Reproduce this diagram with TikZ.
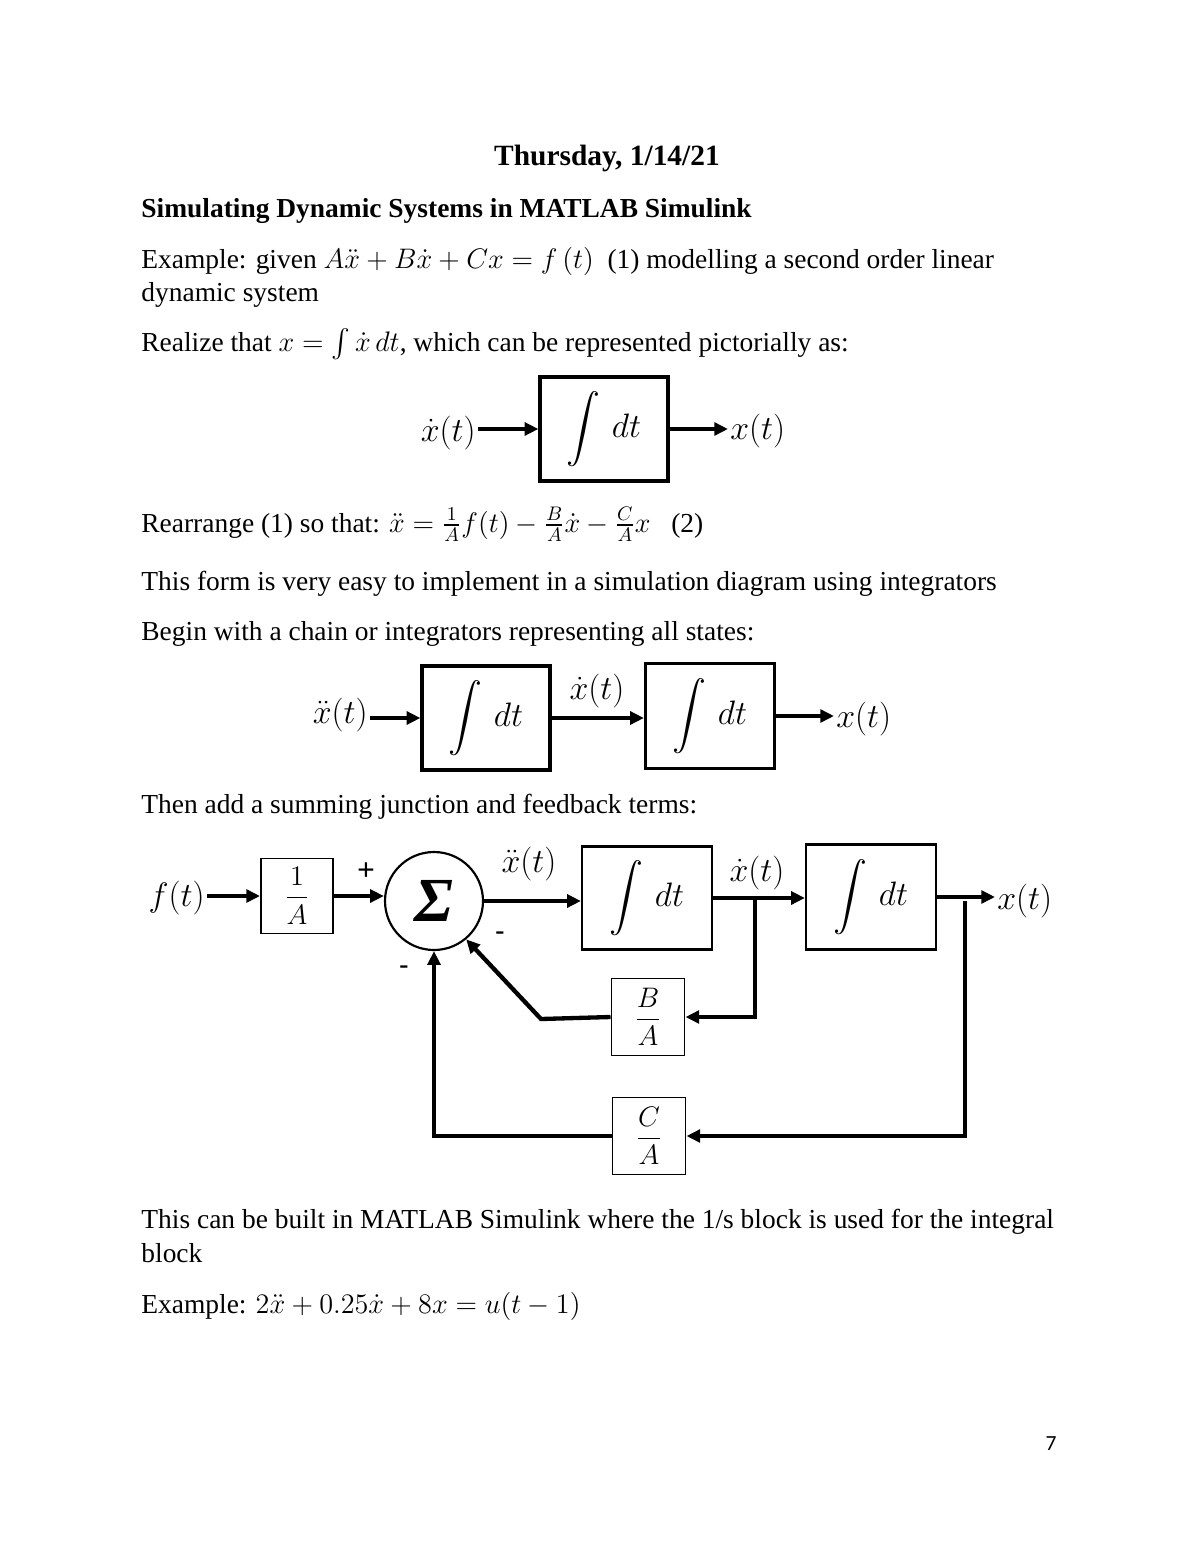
\documentclass[tikz,border=0pt]{standalone}
\usepackage{fontspec}
\setmainfont{Liberation Serif}
\newfontfamily\pagefont{Carlito}
\usepackage{amsmath}
\usetikzlibrary{arrows.meta,positioning}

\newcommand{\px}{0.51pt}

\tikzset{
  line/.style={anchor=base west, inner sep=0pt, font=\fontsize{14}{16}\selectfont},
  lbl/.style={inner sep=1pt, font=\fontsize{17}{19}\selectfont},
  blk/.style={draw, line width=1.3pt, inner sep=0pt, font=\fontsize{16}{18}\selectfont},
  gain/.style={draw, line width=1pt, inner sep=0pt, minimum width=73*\px, minimum height=77*\px, font=\fontsize{15}{17}\selectfont},
  sig/.style={line width=2.2pt, -{Triangle[length=7pt,width=6.5pt]}},
}

\begin{document}
\begin{tikzpicture}[x=\px, y=-\px]
\useasboundingbox (0,0) rectangle (1200,1553);

% header
\node[anchor=base, inner sep=0pt, font=\fontsize{15}{17}\selectfont\bfseries] (date) at (607,166) {Thursday, 1/14/21};
\node[line, font=\fontsize{14}{16}\selectfont\bfseries] (title) at (141,218) {Simulating Dynamic Systems in MATLAB Simulink};
\node[line] (ex1) at (141,268) {Example: given $A\ddot{x} + B\dot{x} + Cx = f\,(t)$ \ (1) modelling a second order linear};
\node[line] (ex2) at (141,301) {dynamic system};
\node[line] (realize) at (141,351) {Realize that $x = \int \dot{x}\,dt$, which can be represented pictorially as:};

% single integrator
\node[blk, line width=1.6pt, minimum width=128*\px, minimum height=104*\px] (int) at (604,429) {$\displaystyle\int\, dt$};
\node[lbl, anchor=east] (xd) at (478,433) {$\dot{x}(t)$};
\node[lbl, anchor=west] (xo) at (728,431) {$x(t)$};
\draw[sig] (int.west -| xd.east) -- (int.west);
\draw[sig] (int.east) -- (int.east -| xo.west);

\node[line] (rearr) at (141,532) {Rearrange (1) so that: $\ddot{x} = \frac{1}{A}f(t) - \frac{B}{A}\dot{x} - \frac{C}{A}x$ \ \ (2)};
\node[line] (form) at (141,590) {This form is very easy to implement in a simulation diagram using integrators};
\node[line] (begin) at (141,640) {Begin with a chain or integrators representing all states:};

% chain of integrators
\node[blk, line width=1.6pt, minimum width=128*\px, minimum height=104*\px] (ia) at (486,718) {$\displaystyle\int\, dt$};
\node[blk, line width=1.6pt, minimum width=129*\px, minimum height=105*\px] (ib) at (710,716) {$\displaystyle\int\, dt$};
\node[lbl, anchor=east] (xdd2) at (370,715) {$\ddot{x}(t)$};
\node[lbl] (xd2) at (597,691) {$\dot{x}(t)$};
\node[lbl, anchor=west] (xo2) at (834,719) {$x(t)$};
\draw[sig] (ia.west -| xdd2.east) -- (ia.west);
\draw[sig] (ia.east) -- (ia.east -| ib.west);
\draw[sig] (ib.east) -- (ib.east -| xo2.west);

\node[line] (then) at (141,813) {Then add a summing junction and feedback terms:};

% full simulation diagram
\node[lbl, anchor=east] (ft) at (207,898) {$f(t)$};
\node[gain, minimum width=72*\px, minimum height=75*\px] (inva) at (297,896) {$\dfrac{1}{A}$};
\node[draw, circle, line width=1.1pt, minimum size=98*\px, inner sep=0pt] (sum) at (434,901) {\fontsize{32}{32}\selectfont\bfseries\itshape Σ};
\node[blk, line width=1.1pt, minimum width=130*\px, minimum height=103*\px] (i1) at (647,898) {$\displaystyle\int\, dt$};
\node[blk, line width=1.1pt, minimum width=130*\px, minimum height=105*\px] (i2) at (871,897) {$\displaystyle\int\, dt$};
\node[gain] (ba) at (648,1017) {$\dfrac{B}{A}$};
\node[gain] (ca) at (649,1136) {$\dfrac{C}{A}$};
\node[lbl] (xdd3) at (529,864) {$\ddot{x}(t)$};
\node[lbl] (xd3) at (757,873) {$\dot{x}(t)$};
\node[lbl, anchor=west] (xo3) at (995,901) {$x(t)$};
\node[lbl, font=\fontsize{16}{16}\selectfont\bfseries] (plus) at (366,872) {+};
\node[lbl, font=\fontsize{14}{14}\selectfont\bfseries] (mb) at (500,936) {-};
\node[lbl, font=\fontsize{14}{14}\selectfont\bfseries] (mc) at (404,970) {-};
\coordinate (br1) at (755,898);
\coordinate (br2) at (965,901);
\coordinate (kink) at (541,1019);

\draw[sig] (inva.west -| ft.east) -- (inva.west);
\draw[sig] (inva.east) -- (inva.east -| sum.west);
\draw[sig] (sum.east) -- (sum.east -| i1.west);
\draw[sig] (i1.east) -- (i1.east -| i2.west);
\draw[sig] (i2.east) -- (i2.east -| xo3.west);
\draw[sig] (br1) |- (ba.east);
\draw[sig] (ba.west) -- (kink) -- (sum.-50);
\draw[sig] (br2) |- (ca.east);
\draw[sig] (ca.west) -| (sum.south);

\node[line] (built1) at (141,1228) {This can be built in MATLAB Simulink where the 1/s block is used for the integral};
\node[line] (built2) at (141,1262) {block};
\node[line] (ex3) at (141,1313) {Example: $2\ddot{x} + 0.25\dot{x} + 8x = u(t-1)$};

\node[inner sep=0pt, font=\pagefont\fontsize{11}{13}\selectfont] (pnum) at (1051,1444) {7};
\end{tikzpicture}
\end{document}
